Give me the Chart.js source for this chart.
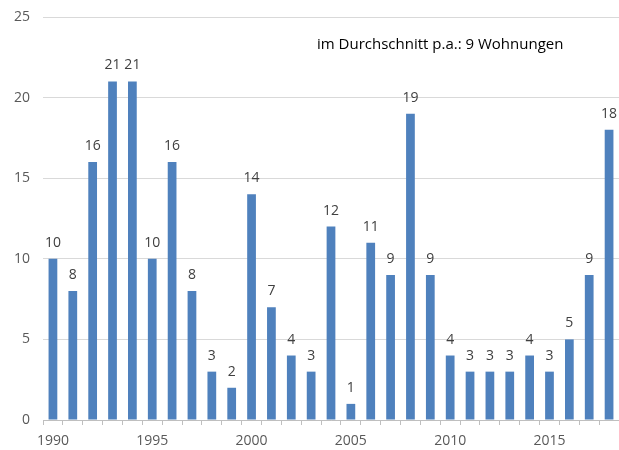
<!DOCTYPE html>
<html>
<head>
<meta charset="utf-8">
<script src="https://cdn.jsdelivr.net/npm/chart.js@4"></script>
<style>
  html, body { margin: 0; padding: 0; background: #fff; }
</style>
</head>
<body>
<canvas id="bars" width="619" height="450"></canvas>
<script>
const years = [];
for (let y = 1990; y <= 2018; y++) years.push(String(y));

const flats = [10, 8, 16, 21, 21, 10, 16, 8, 3, 2, 14, 7, 4, 3, 12, 1, 11, 9, 19, 9, 4, 3, 3, 3, 4, 3, 5, 9, 18];
const yTicks = [0, 5, 10, 15, 20, 25];
const note = "im Durchschnitt p.a.: 9 Wohnungen";

const fontFamily = "'Open Sans', 'Noto Sans', sans-serif";

// draws the value above each bar and the average note
const valueLabels = {
    id: 'valueLabels',
    afterDatasetsDraw(chart) {
        const ctx = chart.ctx;
        const meta = chart.getDatasetMeta(0);
        ctx.save();
        ctx.font = "14px " + fontFamily;
        ctx.fillStyle = '#404040';
        ctx.textAlign = 'center';
        ctx.textBaseline = 'middle';
        meta.data.forEach((bar, i) => {
            ctx.fillText(flats[i], bar.x, bar.y - 16);
        });
        ctx.font = "15px " + fontFamily;
        ctx.fillStyle = '#000';
        ctx.textAlign = 'left';
        const area = chart.chartArea;
        ctx.fillText(note, area.left + 274, area.top + 28);
        ctx.restore();
    }
};

const ctx = document.getElementById('bars').getContext('2d');
const myChart = new Chart(ctx, {
    type: 'bar',
    data: {
        labels: years,
        datasets: [{
            data: flats,
            backgroundColor: '#4f81bd',
            barPercentage: 0.44,
            categoryPercentage: 1
        }]
    },
    options: {
        responsive: false,
        animation: false,
        layout: { padding: { top: 0, right: 0, left: 0, bottom: 0 } },
        plugins: {
            legend: { display: false },
            tooltip: { enabled: false }
        },
        scales: {
            x: {
                afterFit: (scale) => { scale.height = 30; },
                grid: {
                    offset: true,
                    drawOnChartArea: false,
                    drawTicks: true,
                    tickLength: 5,
                    color: '#bfbfbf'
                },
                border: { color: '#bfbfbf' },
                ticks: {
                    autoSkip: false,
                    maxRotation: 0,
                    padding: 8,
                    color: '#595959',
                    font: { family: fontFamily, size: 14 },
                    callback: function (value, index) {
                        const label = this.getLabelForValue(value);
                        return Number(label) % 5 === 0 ? label : '';
                    }
                }
            },
            y: {
                min: 0,
                max: 25,
                afterFit: (scale) => { scale.width = 43; scale.paddingTop = 17; },
                afterBuildTicks: (axis) => { axis.ticks = yTicks.map(v => ({ value: v })); },
                grid: { color: '#d9d9d9', drawTicks: false },
                border: { display: false },
                ticks: {
                    padding: 13,
                    color: '#595959',
                    font: { family: fontFamily, size: 14 }
                }
            }
        }
    },
    plugins: [valueLabels]
});
</script>
</body>
</html>
